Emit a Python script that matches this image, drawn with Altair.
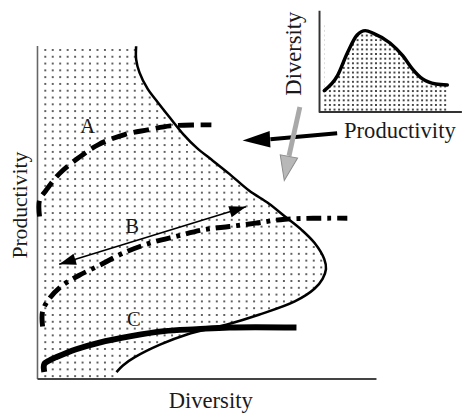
import math
import numpy as np
import pandas as pd
import altair as alt

# ---- values (main panel units: diversity 0-100, productivity 0-100) ----
boundary_div = [29.1, 29.1, 30.1, 32.5, 35.4, 39.2, 43.1, 47.0, 51.8, 56.6, 62.4, 68.2, 73.0, 77.9,
                81.7, 84.6, 85.1, 84.1, 81.7, 75.9, 65.3, 55.7, 44.1, 36.3, 28.6, 25.2, 23.3]
boundary_prod = [99.9, 96.0, 92.0, 87.1, 83.2, 78.3, 73.4, 69.4, 65.5, 61.6, 56.6, 52.7, 48.8, 44.8,
                 40.9, 36.0, 33.0, 30.1, 27.1, 23.3, 19.3, 16.3, 13.4, 10.4, 6.5, 4.1, 2.1]

a_div = [0.6, 0.6, 2.5, 6.4, 12.2, 18.0, 25.7, 32.5, 39.2, 47.0, 51.3]
a_prod = [48.8, 53.7, 56.6, 61.6, 66.5, 70.4, 73.4, 74.8, 76.0, 76.3, 76.3]

b_div = [1.5, 1.5, 3.5, 7.3, 12.2, 18.0, 25.7, 33.4, 41.2, 48.9, 56.6, 64.4, 73.0, 91.4]
b_prod = [15.8, 20.3, 24.2, 28.1, 31.1, 34.0, 38.0, 40.9, 42.9, 44.8, 45.8, 46.8, 48.0, 48.3]

c_div = [2.0, 2.0, 3.5, 5.4, 11.2, 18.0, 27.6, 37.3, 47.0, 56.6, 76.4]
c_prod = [2.1, 4.5, 5.6, 6.5, 8.9, 10.9, 12.9, 14.4, 15.0, 15.5, 15.5]

b_arrow_div = [6.4, 61.5]
b_arrow_prod = [34.5, 51.7]

# inset (placed in the main panel's units, top right)
inset_x = [84.6, 88.5, 91.4, 94.3, 96.7, 99.1, 104.0, 107.8, 110.7, 113.6, 117.5, 120.9]
inset_y = [86.6, 91.1, 97.9, 103.3, 104.6, 103.8, 100.9, 97.0, 93.0, 90.1, 88.6, 88.3]
inset_axis_x = [83.2, 83.2, 125.2]
inset_axis_y = [110.6, 80.2, 80.2]

black_arrow_x = [88.4, 68.7, 60.5]   # start, head base, tip
black_arrow_y = [73.8, 72.0, 71.6]
gray_arrow_x = [77.4, 74.2, 72.8]
gray_arrow_y = [81.7, 67.0, 59.6]

labels = ["A", "B", "C", "Diversity", "Productivity", "Diversity", "Productivity"]
label_x = [14.8, 27.9, 28.4, 51.1, -3.0, 77.7, 106.9]
label_y = [73.8, 43.9, 15.9, -8.8, 52.2, 97.7, 72.4]
label_angle = [0, 0, 0, 0, 270, 270, 0]
label_size = [21, 21, 21, 23, 22, 23, 23]

# ---- layout ----
W, H = 462, 410
XD = [-8.70, 125.23]
YD = [-10.62, 110.33]
KX = W / (XD[1] - XD[0])
KY = H / (YD[1] - YD[0])
xs = alt.Scale(domain=XD, nice=False, zero=False)
ys = alt.Scale(domain=YD, nice=False, zero=False)


def X(f="x"):
    return alt.X(f"{f}:Q", scale=xs, axis=None)


def Y(f="y"):
    return alt.Y(f"{f}:Q", scale=ys, axis=None)


def screen_angle(x0, y0, x1, y1):
    dx = (x1 - x0) * KX
    dy = -(y1 - y0) * KY
    return math.degrees(math.atan2(dy, dx)) % 360


def path_df(xv, yv):
    return pd.DataFrame({"x": xv, "y": yv, "i": range(len(xv))})


def curve(xv, yv, width, dash=None, color="black", interp="catmull-rom", cap="butt"):
    kw = dict(color=color, strokeWidth=width, interpolate=interp, strokeCap=cap, strokeJoin="round")
    if dash:
        kw["strokeDash"] = dash
    return alt.Chart(path_df(xv, yv)).mark_line(**kw).encode(x=X(), y=Y(), order="i:Q")


def head(x, y, ang, length, half, fill, stroke=None):
    shape = f"M0,0L-1,{-half}L-1,{half}Z"
    kw = dict(shape=shape, size=(2 * length) ** 2, filled=True, fill=fill, opacity=1,
              angle=ang)
    if stroke:
        kw.update(stroke=stroke, strokeWidth=1)
    else:
        kw.update(strokeWidth=0)
    return alt.Chart(pd.DataFrame({"x": [x], "y": [y]})).mark_point(**kw).encode(x=X(), y=Y())


# stipple texture (decorative fill)
gx, gy = np.meshgrid(np.arange(2.3, 100.0, 2.2), np.arange(98.8, 0.3, -2.04))
main_dots = pd.DataFrame({"x": gx.ravel(), "y": gy.ravel()})
ix, iy = np.meshgrid(np.arange(84.9, 121.0, 1.36), np.arange(80.9, 106.0, 1.39))
inset_dots = pd.DataFrame({"x": ix.ravel(), "y": iy.ravel()})

layers = []
layers.append(alt.Chart(main_dots).mark_square(size=4, color="#606060", opacity=1).encode(x=X(), y=Y()))
mask_df = pd.DataFrame({"x": boundary_div + [23.0], "y": boundary_prod + [0.0]})
layers.append(alt.Chart(mask_df).mark_area(orient="horizontal", color="white", opacity=1)
              .encode(x=X(), x2=alt.datum(101), y=Y()))
layers.append(alt.Chart(inset_dots).mark_square(size=4, color="#474747", opacity=1).encode(x=X(), y=Y()))
layers.append(alt.Chart(pd.DataFrame({"x": inset_x, "y": inset_y})).mark_area(color="white", opacity=1, interpolate="monotone")
              .encode(x=X(), y=Y(), y2=alt.datum(111)))

# axes
layers.append(curve([0, 0], [100, 0], 1.6, color="#666", interp="linear"))
layers.append(curve([0, 100], [0, 0], 2.0, color="#444", interp="linear"))
layers.append(curve(inset_axis_x, inset_axis_y, 2.0, color="#333", interp="linear"))

# curves
layers.append(curve(boundary_div, boundary_prod, 2.6))
layers.append(curve(a_div, a_prod, 5, dash=[16, 7]))
layers.append(curve(b_div, b_prod, 5, dash=[15, 6, 4, 6]))
layers.append(curve(c_div, c_prod, 6))
layers.append(curve(inset_x, inset_y, 3.5, interp="monotone", cap="round"))

# B double arrow
layers.append(curve(b_arrow_div, b_arrow_prod, 1.6, interp="linear"))
ang_b = screen_angle(b_arrow_div[0], b_arrow_prod[0], b_arrow_div[1], b_arrow_prod[1])
layers.append(head(b_arrow_div[1], b_arrow_prod[1], ang_b, 17, 0.34, "black"))
layers.append(head(b_arrow_div[0], b_arrow_prod[0], (ang_b + 180) % 360, 17, 0.34, "black"))

# black arrow
layers.append(curve(black_arrow_x[:2], black_arrow_y[:2], 4, interp="linear"))
ang_k = screen_angle(black_arrow_x[1], black_arrow_y[1], black_arrow_x[2], black_arrow_y[2])
layers.append(head(black_arrow_x[2], black_arrow_y[2], ang_k, 28, 0.3, "black"))

# gray arrow
layers.append(curve(gray_arrow_x[:2], gray_arrow_y[:2], 5, color="#a9a9a9", interp="linear"))
ang_g = screen_angle(gray_arrow_x[1], gray_arrow_y[1], gray_arrow_x[2], gray_arrow_y[2])
layers.append(head(gray_arrow_x[2], gray_arrow_y[2], ang_g, 25, 0.36, "#b8b8b8", stroke="#8c8c8c"))

# text
text_df = pd.DataFrame({"t": labels, "x": label_x, "y": label_y, "a": label_angle, "s": label_size})
layers.append(alt.Chart(text_df).mark_text(font="Liberation Serif", color="#1a1a1a", align="center",
                                           baseline="alphabetic")
              .encode(x=X(), y=Y(), text="t:N", angle=alt.Angle("a:Q", scale=None),
                      size=alt.Size("s:Q", scale=None)))

chart = alt.layer(*layers).properties(width=W, height=H, padding=0, autosize="none",
                                      background="white").configure_view(stroke=None)

chart.save("out.html", embed_options={"renderer": "svg", "actions": False})
